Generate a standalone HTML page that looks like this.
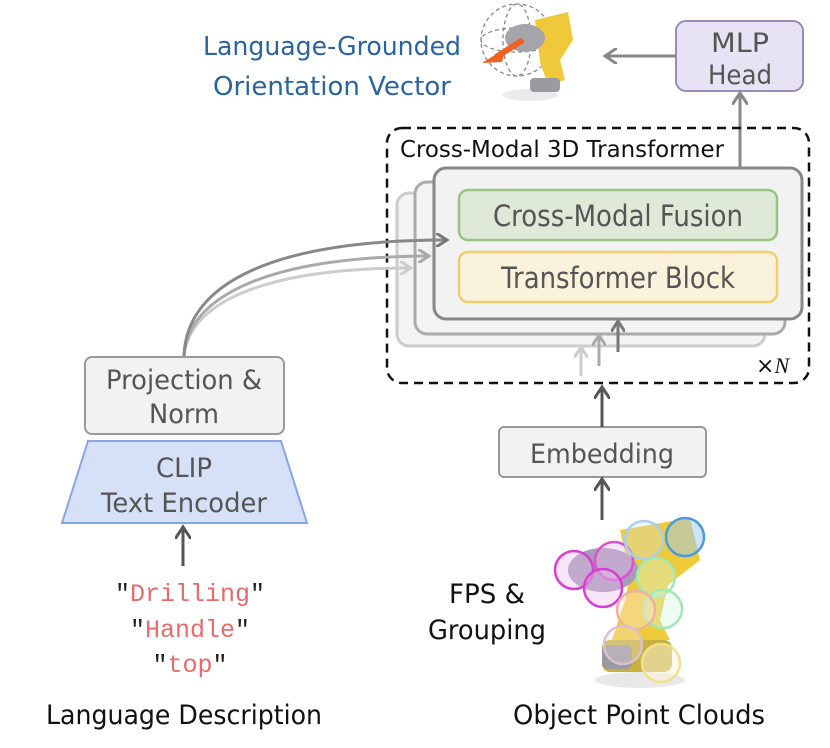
<!DOCTYPE html>
<html><head><meta charset="utf-8"><style>
html,body{margin:0;padding:0;background:#fff;}
svg{display:block;}
text{font-family:"DejaVu Sans","Liberation Sans",sans-serif;}
.m{font-family:"Liberation Mono",monospace;fill:#e86a6a;}
</style></head><body>
<svg width="830" height="748" viewBox="0 0 830 748" xmlns="http://www.w3.org/2000/svg">
<defs>
<marker id="a1" markerWidth="14" markerHeight="14" refX="10" refY="7" orient="auto" markerUnits="userSpaceOnUse"><path d="M0,0 L11,7 L0,14" fill="none" stroke="#777" stroke-width="3"/></marker>
<marker id="a2" markerWidth="14" markerHeight="14" refX="10" refY="7" orient="auto" markerUnits="userSpaceOnUse"><path d="M0,0 L11,7 L0,14" fill="none" stroke="#aaa" stroke-width="3"/></marker>
<marker id="a3" markerWidth="14" markerHeight="14" refX="10" refY="7" orient="auto" markerUnits="userSpaceOnUse"><path d="M0,0 L11,7 L0,14" fill="none" stroke="#ccc" stroke-width="3"/></marker>
<marker id="ad" markerWidth="16" markerHeight="16" refX="11" refY="8" orient="auto" markerUnits="userSpaceOnUse"><path d="M0,0 L12,8 L0,16" fill="none" stroke="#555" stroke-width="3"/></marker>
<marker id="ag" markerWidth="16" markerHeight="16" refX="11" refY="8" orient="auto" markerUnits="userSpaceOnUse"><path d="M0,0 L12,8 L0,16" fill="none" stroke="#888" stroke-width="3"/></marker>
</defs>

<text x="332" y="55" font-size="26" fill="#2a64a0" text-anchor="middle" textLength="258" lengthAdjust="spacingAndGlyphs">Language-Grounded</text>
<text x="332" y="95" font-size="26" fill="#2a64a0" text-anchor="middle" textLength="238" lengthAdjust="spacingAndGlyphs">Orientation Vector</text>
<g>
<ellipse cx="530" cy="95" rx="28" ry="6" fill="#ddd" opacity="0.6"/>
<circle cx="517" cy="40" r="36" fill="none" stroke="#888" stroke-width="1.3" stroke-dasharray="4,3"/>
<ellipse cx="517" cy="40" rx="36" ry="12" fill="none" stroke="#888" stroke-width="1.3" stroke-dasharray="4,3"/>
<ellipse cx="517" cy="40" rx="14" ry="36" fill="none" stroke="#888" stroke-width="1.3" stroke-dasharray="4,3"/>
<path d="M535,20 L568,12 L573,40 L560,60 L565,80 L548,85 L540,62 Z" fill="#f0c93a"/>
<rect x="530" y="78" width="30" height="14" rx="4" fill="#9a9aa0"/>
<ellipse cx="525" cy="38" rx="20" ry="14" fill="#a5a4ab"/>
<path d="M523,40 L496,57" stroke="#f06020" stroke-width="6"/>
<path d="M482,63 L506,48 L502,62 Z" fill="#f06020"/>
</g>
<rect x="676" y="21" width="127" height="70" rx="10" fill="#e8e2f5" stroke="#9a8bb8" stroke-width="2"/>
<text x="740" y="52" font-size="27" fill="#555" text-anchor="middle" textLength="58" lengthAdjust="spacingAndGlyphs">MLP</text>
<text x="740" y="84" font-size="27" fill="#555" text-anchor="middle" textLength="64" lengthAdjust="spacingAndGlyphs">Head</text>
<line x1="676" y1="56" x2="606" y2="56" stroke="#888" stroke-width="3" marker-end="url(#ag)"/>
<line x1="740" y1="167" x2="740" y2="94" stroke="#888" stroke-width="3" marker-end="url(#ag)"/>

<rect x="387" y="128" width="422" height="255" rx="15" fill="none" stroke="#111" stroke-width="2.5" stroke-dasharray="9,6"/>
<text x="400" y="157" font-size="23" fill="#111" textLength="324" lengthAdjust="spacingAndGlyphs">Cross-Modal 3D Transformer</text>
<rect x="397" y="193" width="368" height="153" rx="12" fill="#f4f4f4" stroke="#ccc" stroke-width="3"/>
<rect x="415" y="182" width="370" height="152" rx="12" fill="#f3f3f3" stroke="#aaa" stroke-width="3"/>
<rect x="434" y="168" width="368" height="151" rx="12" fill="#f2f2f2" stroke="#888" stroke-width="3"/>
<rect x="459" y="190" width="318" height="50" rx="9" fill="#dfe9d8" stroke="#9bc283" stroke-width="2.5"/>
<text x="618" y="226" font-size="29" fill="#555" text-anchor="middle" textLength="250" lengthAdjust="spacingAndGlyphs">Cross-Modal Fusion</text>
<rect x="459" y="252" width="318" height="50" rx="9" fill="#fbf2db" stroke="#f1cc6b" stroke-width="2.5"/>
<text x="618" y="288" font-size="29" fill="#555" text-anchor="middle" textLength="234" lengthAdjust="spacingAndGlyphs">Transformer Block</text>
<text x="756" y="373" font-size="22" fill="#111">×<tspan font-style="italic" font-family="Liberation Serif,serif">N</tspan></text>
<line x1="581" y1="376" x2="581" y2="348" stroke="#ccc" stroke-width="3" marker-end="url(#a3)"/>
<line x1="599" y1="366" x2="599" y2="336" stroke="#aaa" stroke-width="3" marker-end="url(#a2)"/>
<line x1="618" y1="352" x2="618" y2="322" stroke="#777" stroke-width="3" marker-end="url(#a1)"/>

<rect x="499" y="427" width="207" height="50" rx="5" fill="#f2f2f2" stroke="#999" stroke-width="2"/>
<text x="602" y="463" font-size="27" fill="#555" text-anchor="middle" textLength="144" lengthAdjust="spacingAndGlyphs">Embedding</text>
<line x1="602" y1="427" x2="602" y2="388" stroke="#555" stroke-width="3" marker-end="url(#ad)"/>
<line x1="602" y1="520" x2="602" y2="480" stroke="#555" stroke-width="3" marker-end="url(#ad)"/>

<path d="M184,356 C190,300 270,268 410,268" fill="none" stroke="#ccc" stroke-width="3" marker-end="url(#a3)"/>
<path d="M184,356 C188,295 270,257 428,256" fill="none" stroke="#aaa" stroke-width="3" marker-end="url(#a2)"/>
<path d="M184,356 C186,285 270,240 446,240" fill="none" stroke="#888" stroke-width="3" marker-end="url(#a1)"/>

<rect x="85" y="357" width="199" height="77" rx="7" fill="#f2f2f2" stroke="#999" stroke-width="2"/>
<text x="184" y="389" font-size="27" fill="#555" text-anchor="middle" textLength="156" lengthAdjust="spacingAndGlyphs">Projection &amp;</text>
<text x="184" y="423" font-size="27" fill="#555" text-anchor="middle" textLength="70" lengthAdjust="spacingAndGlyphs">Norm</text>
<path d="M88,441 L281,441 L307,523 L62,523 Z" fill="#d6e0f7" stroke="#86a6e8" stroke-width="2"/>
<text x="184" y="477" font-size="27" fill="#555" text-anchor="middle" textLength="56" lengthAdjust="spacingAndGlyphs">CLIP</text>
<text x="184" y="512" font-size="27" fill="#555" text-anchor="middle" textLength="166" lengthAdjust="spacingAndGlyphs">Text Encoder</text>
<line x1="183" y1="566" x2="183" y2="528" stroke="#555" stroke-width="3" marker-end="url(#ad)"/>

<text x="190" y="601" font-size="25" text-anchor="middle"><tspan class="m" style="fill:#222">″</tspan><tspan class="m">Drilling</tspan><tspan class="m" style="fill:#222">″</tspan></text>
<text x="190" y="637" font-size="25" text-anchor="middle"><tspan class="m" style="fill:#222">″</tspan><tspan class="m">Handle</tspan><tspan class="m" style="fill:#222">″</tspan></text>
<text x="190" y="672" font-size="25" text-anchor="middle"><tspan class="m" style="fill:#222">″</tspan><tspan class="m">top</tspan><tspan class="m" style="fill:#222">″</tspan></text>
<text x="184" y="724" font-size="27" fill="#111" text-anchor="middle" textLength="276" lengthAdjust="spacingAndGlyphs">Language Description</text>

<text x="487" y="603" font-size="27" fill="#111" text-anchor="middle" textLength="76" lengthAdjust="spacingAndGlyphs">FPS &amp;</text>
<text x="487" y="639" font-size="27" fill="#111" text-anchor="middle" textLength="118" lengthAdjust="spacingAndGlyphs">Grouping</text>
<text x="639" y="724" font-size="27" fill="#111" text-anchor="middle" textLength="252" lengthAdjust="spacingAndGlyphs">Object Point Clouds</text>

<g>
<ellipse cx="640" cy="680" rx="45" ry="8" fill="#e8e8e8"/>
<path d="M620,530 L690,518 L700,560 L668,585 L660,620 L670,640 L612,640 L625,600 L630,575 Z" fill="#efca3a"/>
<rect x="602" y="640" width="70" height="32" rx="8" fill="#c8b040"/>
<rect x="602" y="645" width="30" height="24" rx="6" fill="#9a9aa0"/>
<ellipse cx="603" cy="570" rx="35" ry="22" fill="#a49cb8"/>
<circle cx="574" cy="570" r="19" fill="#f0c0f0" fill-opacity="0.4" stroke="#d63fd0" stroke-width="2.5"/>
<circle cx="614" cy="561" r="19" fill="#f0c0f0" fill-opacity="0.4" stroke="#e050d0" stroke-width="2.5"/>
<circle cx="603" cy="588" r="19" fill="#f0c0f0" fill-opacity="0.4" stroke="#d63fd0" stroke-width="2.5"/>
<circle cx="644" cy="540" r="19" fill="#cce4f8" fill-opacity="0.3" stroke="#a8cff0" stroke-width="2.5"/>
<circle cx="685" cy="537" r="19" fill="#9cc8f0" fill-opacity="0.5" stroke="#4a9ae0" stroke-width="2.5"/>
<circle cx="656" cy="577" r="19" fill="#d8f8e0" fill-opacity="0.4" stroke="#a0e8b8" stroke-width="2.5"/>
<circle cx="663" cy="609" r="19" fill="#d8f8e0" fill-opacity="0.4" stroke="#a0e8b8" stroke-width="2.5"/>
<circle cx="636" cy="610" r="19" fill="#fde8e0" fill-opacity="0.4" stroke="#f0b0a0" stroke-width="2.5"/>
<circle cx="623" cy="645" r="19" fill="#f5e8ee" fill-opacity="0.3" stroke="#dcc0cc" stroke-width="2.5"/>
<circle cx="661" cy="663" r="19" fill="#fbf5d8" fill-opacity="0.5" stroke="#f0e090" stroke-width="2.5"/>
</g>
</svg>
</body></html>
